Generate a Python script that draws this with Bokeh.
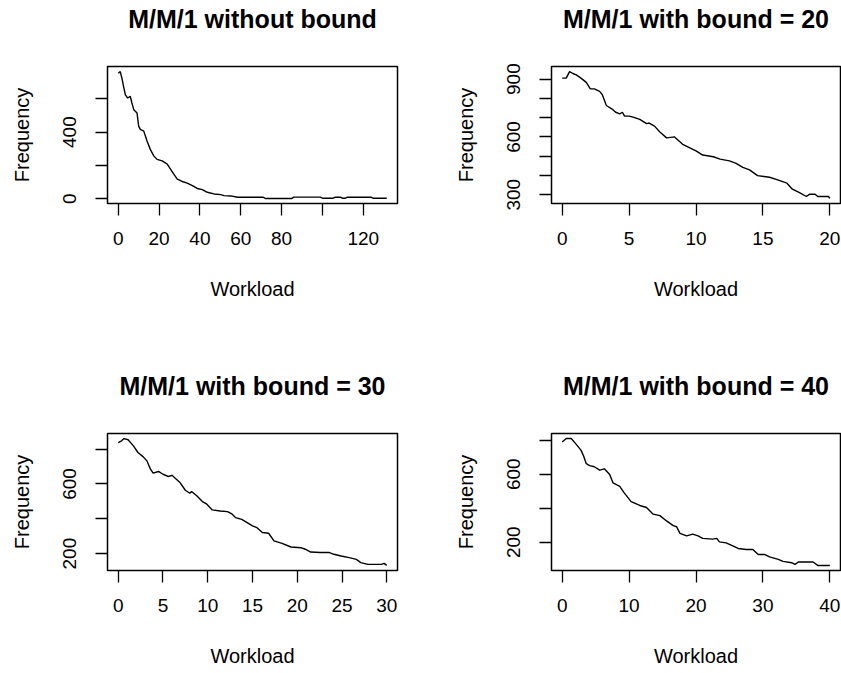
from bokeh.plotting import figure
from bokeh.models import Range1d, FixedTicker, Title
from bokeh.layouts import column, row
from bokeh.embed import file_html
from bokeh.resources import INLINE

# ---------------- data ----------------
titles = ["M/M/1 without bound", "M/M/1 with bound = 20",
          "M/M/1 with bound = 30", "M/M/1 with bound = 40"]

x1 = [0, 1, 1.8, 2.6, 3.5, 4.6, 5.9, 6.7, 7.6, 9.2, 10, 10.8, 12.5, 14.1, 15.7, 17.4, 19, 21.5, 24, 25.6,
      27.2, 28.9, 31.3, 33.8, 36.3, 38.7, 41.2, 43.6, 46.9, 50.2, 51.8, 55.1, 58.4, 71, 72, 85, 86, 99, 100, 105,
      106, 109, 110, 111, 112, 124, 125, 131.5]
y1 = [754, 764, 724, 675, 624, 605, 615, 575, 535, 515, 436, 416, 406, 346, 296, 257, 236, 227, 207, 177,
      147, 117, 103, 93, 78, 61, 54, 38, 28, 24, 18, 16, 8, 8, 1, 1, 9, 9, 2, 2,
      8, 8, 2, 2, 8, 8, 2, 2]

x2 = [0, 0.3, 0.55, 0.8, 1.05, 1.4, 1.8, 2.1, 2.4, 2.8, 3.0, 3.3, 3.7, 4.0, 4.3, 4.5, 4.66, 5.0, 5.3, 5.8,
      6.3, 6.5, 6.9, 7.3, 7.8, 8.4, 9.0, 9.5, 10.0, 10.5, 11.3, 11.8, 12.5, 13.0, 13.5, 14.0, 14.6, 15.5, 16.1, 16.8,
      17.2, 17.7, 18.25, 18.5, 18.9, 19.1, 19.9, 20]
y2 = [905, 905, 939, 929, 922, 905, 883, 849, 849, 836, 819, 763, 746, 728, 720, 728, 708, 708, 703, 691,
      669, 672, 656, 626, 595, 600, 562, 545, 528, 506, 497, 485, 476, 463, 442, 429, 399, 391, 377, 360,
      329, 312, 291, 303, 303, 291, 291, 281]

x3 = [0, 0.38, 0.64, 1.1, 1.7, 2.2, 2.8, 3.2, 3.6, 3.9, 4.5, 5.0, 5.6, 6.0, 6.4, 6.9, 7.5, 8.0, 8.2, 8.8,
      9.4, 9.9, 10.5, 11.4, 12.2, 12.7, 13.1, 13.8, 14.4, 15.0, 15.5, 16.1, 16.8, 17.4, 18.3, 19.3, 20.4, 20.9, 21.5, 22.6,
      23.6, 24.1, 24.9, 25.8, 26.6, 27.1, 27.9, 29.4, 29.7, 30]
y3 = [838, 848, 861, 854, 819, 781, 756, 733, 685, 662, 672, 656, 643, 650, 631, 608, 564, 547, 557, 531,
      499, 484, 451, 445, 441, 428, 407, 397, 378, 359, 349, 321, 317, 273, 259, 238, 234, 225, 209, 206,
      206, 196, 186, 177, 167, 148, 138, 138, 144, 132]

x4 = [0, 0.6, 1.35, 2.1, 2.8, 3.2, 3.6, 4.1, 4.8, 5.6, 6.3, 7.1, 7.6, 8.6, 9.3, 10.3, 11.6, 12.6, 13.6, 14.6,
      15.6, 16.6, 17.1, 17.6, 18.6, 19.5, 20.3, 21.0, 22.5, 23.1, 23.5, 24.5, 25.5, 26.3, 27.5, 28.5, 29.3, 30.3, 31.0, 32.3,
      33.0, 34.3, 34.8, 35.3, 37.5, 38.2, 40]
y4 = [790, 810, 810, 776, 742, 707, 662, 651, 644, 624, 632, 598, 549, 529, 489, 439, 416, 404, 365, 356,
      325, 297, 291, 252, 237, 247, 237, 222, 218, 222, 202, 196, 178, 163, 157, 157, 127, 127, 113, 99,
      87, 79, 69, 83, 83, 63, 63]

# tick positions and the labels R kept (empty = label dropped for overlap)
xticks1 = [0, 20, 40, 60, 80, 100, 120]
xlabels1 = ["0", "20", "40", "60", "80", "", "120"]
yticks1 = [0, 200, 400, 600]
ylabels1 = ["0", "", "400", ""]

xticks2 = [0, 5, 10, 15, 20]
xlabels2 = ["0", "5", "10", "15", "20"]
yticks2 = [300, 400, 500, 600, 700, 800, 900]
ylabels2 = ["300", "", "", "600", "", "", "900"]

xticks3 = [0, 5, 10, 15, 20, 25, 30]
xlabels3 = ["0", "5", "10", "15", "20", "25", "30"]
yticks3 = [200, 400, 600, 800]
ylabels3 = ["200", "", "600", ""]

xticks4 = [0, 10, 20, 30, 40]
xlabels4 = ["0", "10", "20", "30", "40"]
yticks4 = [200, 400, 600, 800]
ylabels4 = ["200", "", "600", ""]

x_label = "Workload"
y_label = "Frequency"

FONT = "Liberation Sans"


def r_limits(vals):
    lo, hi = min(vals), max(vals)
    pad = 0.04 * (hi - lo)
    return lo - pad, hi + pad


def panel(title, xs, ys, xt, xl, yt, yl, width, height, right_border, top_border, frame_h):
    x0, x1_ = r_limits(xs)
    y0, y1_ = r_limits(ys)
    p = figure(width=width, height=height, title=None,
               x_range=Range1d(x0, x1_), y_range=Range1d(y0, y1_),
               output_backend="svg", toolbar_location=None,
               min_border_left=107, min_border_right=right_border,
               min_border_top=top_border,
               min_border_bottom=height - top_border - frame_h)
    p.grid.visible = False
    p.background_fill_color = "white"
    p.border_fill_color = "white"
    p.outline_line_color = "black"
    p.outline_line_width = 1.5
    p.line(xs, ys, line_color="black", line_width=1.4)

    # spacer next to the box, then the bold main title further up (R style)
    p.add_layout(Title(text=" ", text_font_size="10px", standoff=21), "above")
    p.add_layout(Title(text=title, text_font=FONT, text_font_style="bold",
                       text_font_size="25px", align="center", vertical_align="bottom",
                       text_color="black", standoff=0), "above")

    for ax, ticks, labels, lab in ((p.xaxis[0], xt, xl, x_label), (p.yaxis[0], yt, yl, y_label)):
        ax.ticker = FixedTicker(ticks=ticks)
        ax.major_label_overrides = {t: s for t, s in zip(ticks, labels)}
        ax.axis_line_color = None
        ax.major_tick_out = 12
        ax.major_tick_in = 0
        ax.major_tick_line_color = "black"
        ax.major_tick_line_width = 1.3
        ax.minor_tick_out = 0
        ax.minor_tick_in = 0
        ax.major_label_text_font = FONT
        ax.major_label_text_font_size = "19px"
        ax.major_label_text_color = "black"
        ax.axis_label = lab
        ax.axis_label_text_font = FONT
        ax.axis_label_text_font_size = "20px"
        ax.axis_label_text_font_style = "normal"
        ax.axis_label_text_color = "black"
    p.xaxis.major_label_standoff = 16
    p.xaxis.axis_label_standoff = 30
    p.yaxis.major_label_orientation = "vertical"
    p.yaxis.major_label_standoff = 19
    p.yaxis.axis_label_standoff = 28
    return p


p1 = panel(titles[0], x1, y1, xticks1, xlabels1, yticks1, ylabels1, 444, 367, 47, 66, 137)
p2 = panel(titles[1], x2, y2, xticks2, xlabels2, yticks2, ylabels2, 397, 367, 1, 66, 137)
p3 = panel(titles[2], x3, y3, xticks3, xlabels3, yticks3, ylabels3, 444, 306, 47, 66, 137)
p4 = panel(titles[3], x4, y4, xticks4, xlabels4, yticks4, ylabels4, 397, 306, 1, 66, 137)

layout = column(row(p1, p2, spacing=0), row(p3, p4, spacing=0), spacing=0)

open("out.html", "w").write(file_html(layout, INLINE))
